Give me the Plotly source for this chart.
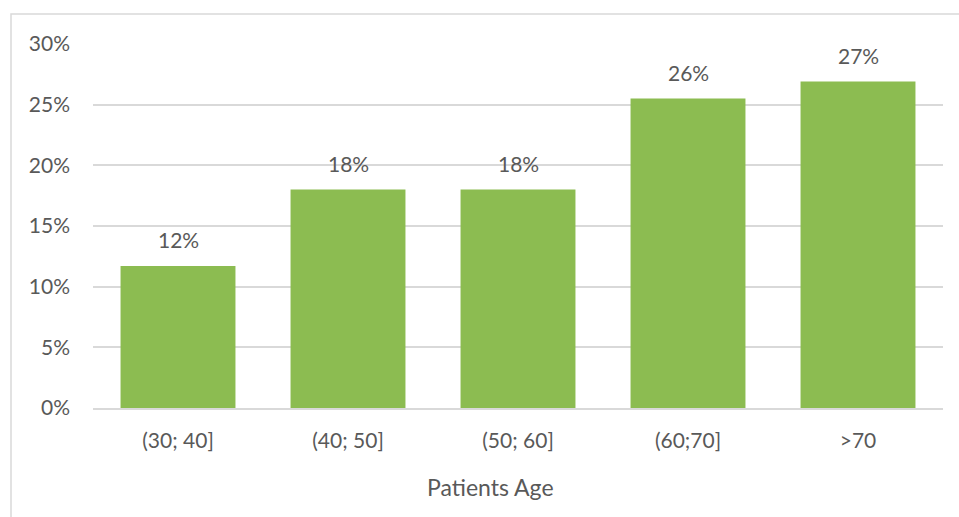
import plotly.graph_objects as go

categories = ["(30; 40]", "(40; 50]", "(50; 60]", "(60;70]", ">70"]
values = [0.117, 0.18, 0.18, 0.255, 0.269]
labels = ["12%", "18%", "18%", "26%", "27%"]
tick_vals = [0, 0.05, 0.10, 0.15, 0.20, 0.25, 0.30]
tick_text = ["0%", "5%", "10%", "15%", "20%", "25%", "30%"]
x_title = "Patients Age"

W, H = 959, 517
L, R, T, B = 93, 16, 44, 109
font = "Lato, 'Open Sans', sans-serif"
txt = "#595959"
fs = 21

fig = go.Figure(go.Bar(
    x=categories, y=values,
    marker=dict(color="#8CBC51", line=dict(width=0)),
))
for c, v, t in zip(categories, values, labels):
    fig.add_annotation(x=c, y=v, text=t, showarrow=False, yanchor="bottom",
                       yshift=12, font=dict(family=font, size=fs, color=txt))
fig.add_annotation(xref="paper", yref="paper", x=(490 - L) / (W - L - R),
                   y=-(487 - (H - B)) / (H - T - B), text=x_title, showarrow=False,
                   xanchor="center", yanchor="middle",
                   font=dict(family=font, size=23, color=txt))
fig.update_layout(
    width=W, height=H, margin=dict(l=L, r=R, t=T, b=B),
    paper_bgcolor="white", plot_bgcolor="white",
    bargap=0.324, showlegend=False,
    font=dict(family=font, color=txt, size=fs),
    xaxis=dict(showgrid=False, showline=True, linecolor="#d9d9d9", linewidth=1.5,
               ticks="", tickfont=dict(size=fs, color=txt), ticklabelstandoff=13),
    yaxis=dict(range=[0, 0.30], tickvals=tick_vals, ticktext=tick_text,
               showgrid=True, gridcolor="#d9d9d9", gridwidth=1.5, zeroline=False,
               showline=False, ticks="", ticklabelstandoff=22,
               tickfont=dict(size=fs, color=txt)),
    shapes=[dict(type="rect", xref="paper", yref="paper",
                 x0=(11 - L) / (W - L - R), x1=(W + 5 - L) / (W - L - R),
                 y0=-(H + 5 - (H - B)) / (H - T - B), y1=(H - 14 - B) / (H - T - B),
                 line=dict(color="#d9d9d9", width=1.5), fillcolor="rgba(0,0,0,0)",
                 layer="below")],
)
fig.write_html("out.html")
